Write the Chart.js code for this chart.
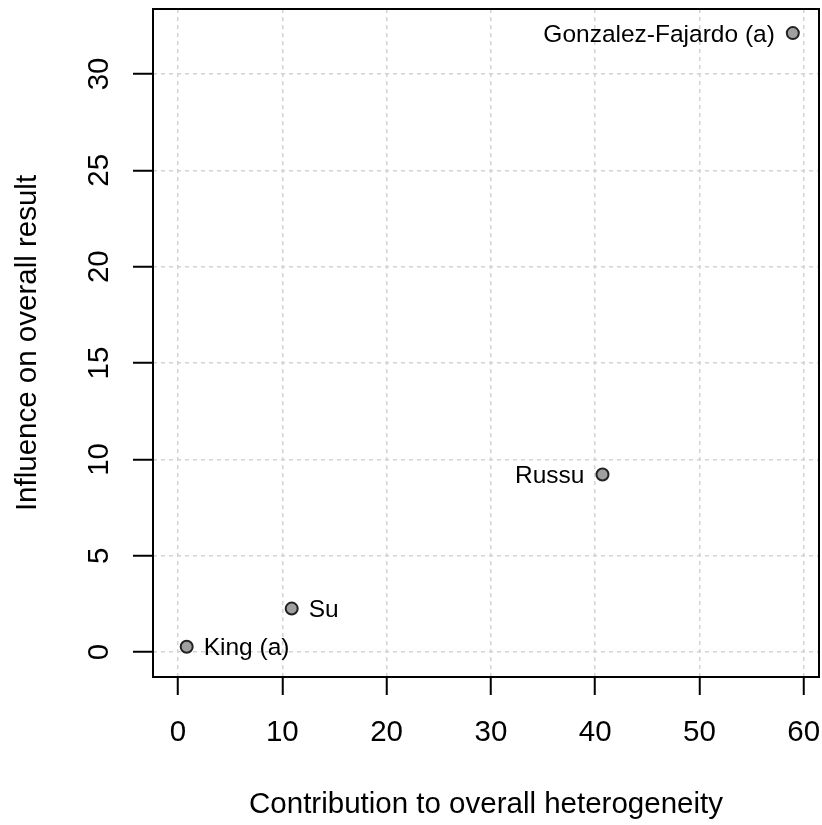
<!DOCTYPE html>
<html>
<head>
<meta charset="utf-8">
<title>Influence vs heterogeneity</title>
<script src="https://cdn.jsdelivr.net/npm/chart.js@4.4.1/dist/chart.umd.min.js"></script>
<style>
  html, body { margin: 0; padding: 0; background: #ffffff; }
  canvas { display: block; }
</style>
</head>
<body>
<canvas id="baujat" width="822" height="825"></canvas>
<script>
// Study data: contribution to heterogeneity (x) and influence on the pooled result (y)
const studyNames = ['King (a)', 'Su', 'Russu', 'Gonzalez-Fajardo (a)'];
const heterogeneity = [0.83, 10.9, 40.7, 58.95];
const influence = [0.28, 2.26, 9.22, 32.12];
const labelSide = ['right', 'right', 'left', 'left'];

// Axis tick values
const xTicks = [0, 10, 20, 30, 40, 50, 60];
const yTicks = [0, 5, 10, 15, 20, 25, 30];

const FONT = "'Liberation Sans', Arial, Helvetica, sans-serif";

// Point labels placed beside each marker
const studyLabels = {
  id: 'studyLabels',
  afterDatasetsDraw(chart) {
    const ctx = chart.ctx;
    const meta = chart.getDatasetMeta(0);
    ctx.save();
    ctx.font = '24.5px ' + FONT;
    ctx.fillStyle = '#000000';
    ctx.textBaseline = 'middle';
    meta.data.forEach((pt, i) => {
      const right = labelSide[i] === 'right';
      ctx.textAlign = right ? 'left' : 'right';
      ctx.fillText(studyNames[i], pt.x + (right ? 17 : -18), pt.y + 2);
    });
    ctx.restore();
  }
};

// Frame around the plotting region
const plotFrame = {
  id: 'plotFrame',
  afterDatasetsDraw(chart) {
    const a = chart.chartArea;
    const ctx = chart.ctx;
    ctx.save();
    ctx.strokeStyle = '#000000';
    ctx.lineWidth = 2;
    ctx.strokeRect(a.left, a.top, a.right - a.left, a.bottom - a.top);
    ctx.restore();
  }
};

// Fixed axis box sizes, no extra edge padding from tick labels
function fixBox(size, horizontal) {
  return s => {
    if (horizontal) { s.height = size; } else { s.width = size; }
    s.paddingTop = 0;
    s.paddingBottom = 0;
    s.paddingLeft = 0;
    s.paddingRight = 0;
  };
}

const points = heterogeneity.map((x, i) => ({ x: x, y: influence[i] }));

new Chart(document.getElementById('baujat'), {
  type: 'scatter',
  data: {
    datasets: [{
      data: points,
      pointRadius: 6,
      pointHoverRadius: 6,
      pointBackgroundColor: '#a0a0a0',
      pointBorderColor: '#222222',
      pointBorderWidth: 2
    }]
  },
  options: {
    responsive: false,
    animation: false,
    events: [],
    layout: { autoPadding: false, padding: { top: 9, right: 3, left: 0, bottom: 0 } },
    plugins: {
      legend: { display: false },
      tooltip: { enabled: false }
    },
    scales: {
      x: {
        type: 'linear',
        position: 'bottom',
        min: -2.4,
        max: 61.46,
        afterBuildTicks: s => { s.ticks = xTicks.map(v => ({ value: v })); },
        afterFit: fixBox(148, true),
        border: { display: false, dash: [4, 4] },
        grid: {
          color: '#d3d3d3',
          lineWidth: 1.5,
          drawTicks: true,
          tickLength: 18,
          tickColor: '#000000',
          tickWidth: 2,
          tickBorderDash: []
        },
        ticks: {
          padding: 20,
          color: '#000000',
          font: { family: FONT, size: 29.5 },
          maxRotation: 0,
          minRotation: 0
        },
        title: {
          display: true,
          text: 'Contribution to overall heterogeneity',
          color: '#000000',
          font: { family: FONT, size: 29.5 },
          padding: { top: 0, bottom: 2 }
        }
      },
      y: {
        type: 'linear',
        position: 'left',
        min: -1.29,
        max: 33.37,
        afterBuildTicks: s => { s.ticks = yTicks.map(v => ({ value: v })); },
        afterFit: fixBox(153, false),
        border: { display: false, dash: [4, 4] },
        grid: {
          color: '#d3d3d3',
          lineWidth: 1.5,
          drawTicks: true,
          tickLength: 20,
          tickColor: '#000000',
          tickWidth: 2,
          tickBorderDash: []
        },
        ticks: {
          padding: 17,
          color: '#000000',
          font: { family: FONT, size: 29.5 },
          minRotation: 90,
          maxRotation: 90,
          crossAlign: 'center'
        },
        title: {
          display: true,
          text: 'Influence on overall result',
          color: '#000000',
          font: { family: FONT, size: 29.5 },
          padding: { top: 10, bottom: 0 }
        }
      }
    }
  },
  plugins: [studyLabels, plotFrame]
});
</script>
</body>
</html>
